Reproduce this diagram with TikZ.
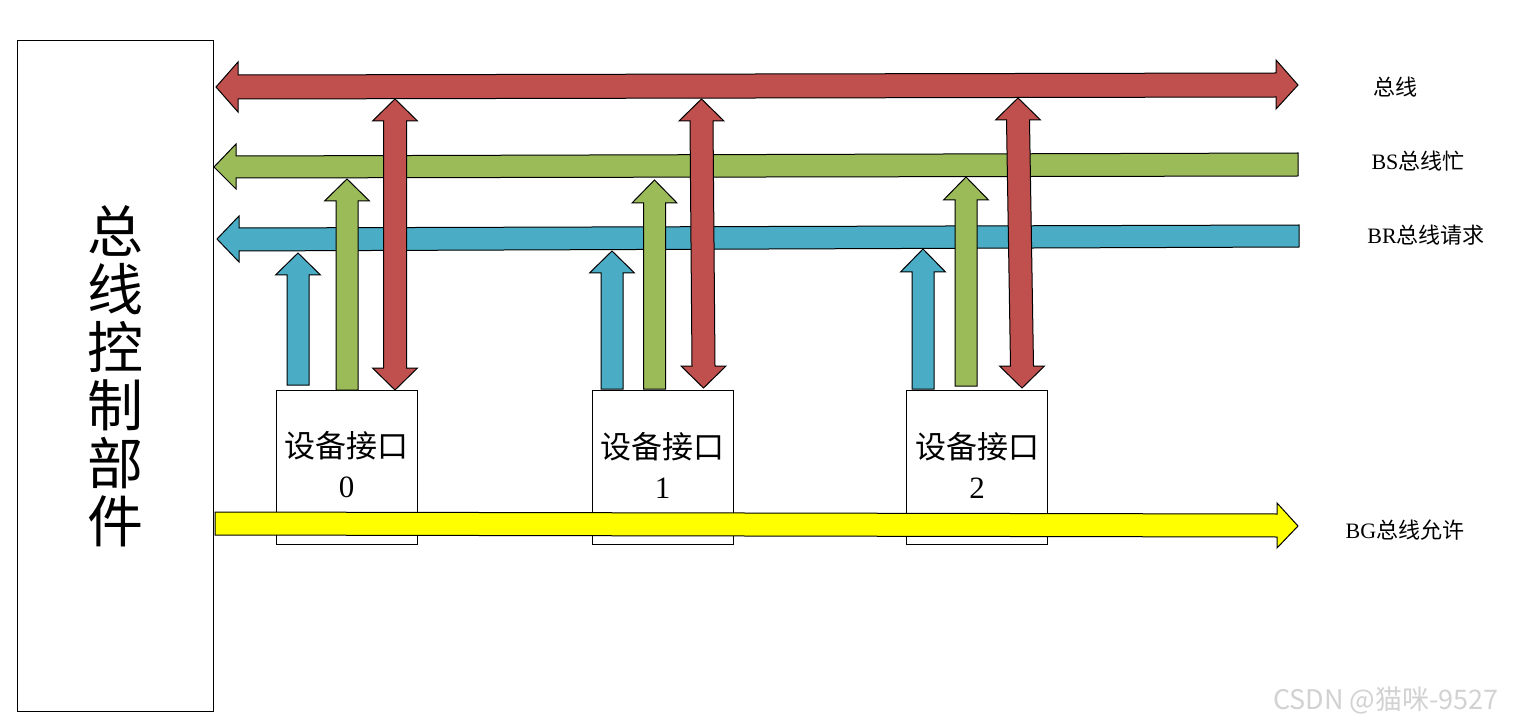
\documentclass[tikz,border=0pt]{standalone}
\usepackage{fontspec}
\setmainfont{Liberation Serif}
\newfontfamily\cjk{Noto Sans CJK SC}
\definecolor{busred}{HTML}{C0504D}
\definecolor{busgreen}{HTML}{9BBB59}
\definecolor{busblue}{HTML}{4BACC6}
\definecolor{busyellow}{HTML}{FFFF00}
\definecolor{wmgray}{HTML}{D2D2D2}
\newcommand\vupar[5]{% style, xc, tip y, head base y, bottom y
  \draw[#1] (#2,#3) -- (#2+22.5,#4) -- (#2+11,#4) -- (#2+11,#5) -- (#2-11,#5) -- (#2-11,#4) -- (#2-22.5,#4) -- cycle;}
\newcommand\vdblar[5]{% style, x top, y top, x bottom, y bottom
  \draw[#1] (#2,#3) -- (#2+22.5,#3+22) -- (#2+11.5,#3+22) -- (#4+11.5,#5-22) -- (#4+22.5,#5-22) -- (#4,#5)
     -- (#4-22.5,#5-22) -- (#4-11.5,#5-22) -- (#2-11.5,#3+22) -- (#2-22.5,#3+22) -- cycle;}
\begin{document}
\begin{tikzpicture}[x=1pt,y=-1pt,
  outl/.style={draw=black,line width=1pt,line join=miter},
  redar/.style={outl,fill=busred},
  greenar/.style={outl,fill=busgreen},
  bluear/.style={outl,fill=busblue},
  yellowar/.style={outl,fill=busyellow},
  ctrlbox/.style={draw=black,line width=1pt,fill=white,minimum width=196pt,minimum height=670pt,inner sep=0pt,
     align=center,font=\cjk\fontsize{56}{58}\selectfont},
  devbox/.style={draw=black,line width=1pt,fill=white,minimum width=141pt,minimum height=154pt,inner sep=0pt,
     align=center,font=\fontsize{31}{40}\selectfont},
  devtext/.style={inner sep=0pt,align=center,font=\fontsize{31}{40}\selectfont},
  lbl/.style={inner sep=0pt,font=\fontsize{22}{24}\selectfont}]
\fill[white] (0,0) rectangle (1515,727);
\useasboundingbox (0,0) rectangle (1515,727);
% control unit
\node[ctrlbox] (ctrl) at (115,376) {总\\线\\控\\制\\部\\件};
% device interfaces
\node[devbox] (d0) at (346.5,467) {};
\node[devbox] (d1) at (662.5,467) {};
\node[devbox] (d2) at (977,467) {};
\node[devtext] (t0) at ([yshift=2pt]d0.center) {{\cjk 设备接口}\\0};
\node[devtext] (t1) at ([yshift=2pt]d1.center) {{\cjk 设备接口}\\1};
\node[devtext] (t2) at ([yshift=2pt]d2.center) {{\cjk 设备接口}\\2};
% BR bus request (blue)
\draw[bluear] (217,239) -- (239,216) -- (239,228) -- (1299,225) -- (1299,247) -- (239,251) -- (239,262) -- cycle;
% BS bus busy (green)
\draw[greenar] (214,167) -- (236,144) -- (236,156) -- (1298,153) -- (1298,176) -- (236,178) -- (236,189) -- cycle;
% vertical arrows
\vupar{bluear}{298}{253}{275}{385}
\vupar{bluear}{612}{251}{273}{389}
\vupar{bluear}{923}{249}{272}{389}
\vupar{greenar}{347}{179}{201}{390}
\vupar{greenar}{654.5}{180}{203}{389}
\vupar{greenar}{966}{177}{200}{386}
\vdblar{redar}{395}{99}{395}{390}
\vdblar{redar}{701.5}{99}{703.5}{388}
\vdblar{redar}{1018}{98}{1022}{388}
% bus (red)
\draw[redar] (216,87) -- (238,62) -- (238,75) -- (1276,73) -- (1276,60) -- (1298,85) -- (1276,109) -- (1276,97) -- (238,99) -- (238,112) -- cycle;
% BG bus grant (yellow)
\draw[yellowar] (215,512) -- (1277,514) -- (1277,503) -- (1298,526) -- (1277,548) -- (1277,537) -- (215,535) -- cycle;
% labels
\node[lbl] (lbus) at (1395,87) {\cjk 总线};
\node[lbl] (lbs) at (1418,161) {BS{\cjk 总线忙}};
\node[lbl] (lbr) at (1426,235) {BR{\cjk 总线请求}};
\node[lbl] (lbg) at (1405,530) {BG{\cjk 总线允许}};
% watermark
\node[inner sep=0pt,text=wmgray,font=\cjk\fontsize{27}{29}\selectfont] (wm) at (1386,700) {CSDN @猫咪-9527};
\end{tikzpicture}
\end{document}
